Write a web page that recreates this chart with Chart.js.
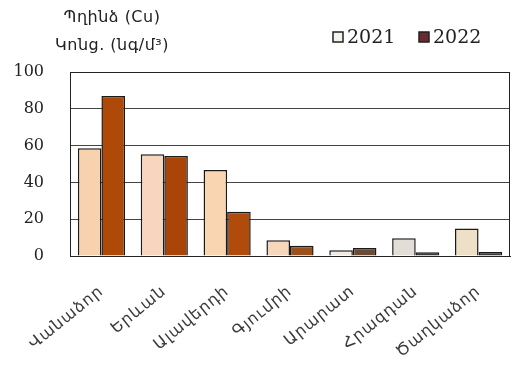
<!DOCTYPE html>
<html>
<head>
<meta charset="utf-8">
<script src="https://cdn.jsdelivr.net/npm/chart.js@4/dist/chart.umd.min.js"></script>
<style>
  html, body { margin: 0; padding: 0; background: #fff; }
  #wrap { width: 511px; height: 376px; position: relative; }
</style>
</head>
<body>
<div id="wrap"><canvas id="c" width="511" height="376"></canvas></div>
<script>
// Copper (Cu) concentration by city, ng/m³
const cities = ['Վանաձոր', 'Երևան', 'Ալավերդի', 'Գյումրի', 'Արարատ', 'Հրազդան', 'Ծաղկաձոր'];
const values2021 = [58.5, 55.3, 46.7, 8.5, 3.1, 9.6, 15.0];
const values2022 = [87.0, 54.3, 24.0, 5.6, 4.3, 2.0, 2.2];
const yTicks = [0, 20, 40, 60, 80, 100];
const titleLines = ['Պղինձ (Cu)', 'Կոնց. (նգ/մ³)'];
const seriesNames = ['2021', '2022'];

const fill2021 = ['#f8d2ae', '#f7d6bd', '#f9d6b1', '#f5d7bc', '#f1ebe4', '#e3ddd7', '#eee0c6'];
const fill2022 = ['#ae4908', '#a94508', '#b04b0c', '#9c511c', '#6b4b33', '#3b3936', '#3b3936'];
const legendFill = ['#f4f1ee', '#6a2a2e'];

const serif = '"DejaVu Serif", "Liberation Serif", serif';
const armenian = '"DejaVu Sans", "Noto Sans", sans-serif';

const decorations = {
  id: 'decorations',
  beforeDraw(chart) {
    // slightly wider letter spacing for the rotated city names
    const sx = chart.scales.x;
    if (!sx._spaced) {
      const orig = sx.drawLabels;
      sx.drawLabels = function (area) {
        const c = this.ctx;
        const prev = c.letterSpacing;
        c.letterSpacing = '1px';
        orig.call(this, area);
        c.letterSpacing = prev;
      };
      sx._spaced = true;
    }
  },
  afterDatasetsDraw(chart) {
    // box round the plot area
    const { ctx, chartArea: a } = chart;
    ctx.save();
    ctx.strokeStyle = '#222';
    ctx.lineWidth = 1;
    ctx.strokeRect(Math.round(a.left) + 0.5, Math.round(a.top) + 0.5,
                   Math.round(a.right - a.left) - 1, Math.round(a.bottom - a.top));
    ctx.restore();
  },
  afterDraw(chart) {
    const { ctx } = chart;
    ctx.save();
    // two-line heading, top left
    ctx.fillStyle = '#222';
    ctx.font = '16px ' + armenian;
    ctx.letterSpacing = '0.5px';
    ctx.textAlign = 'center';
    ctx.textBaseline = 'middle';
    ctx.fillText(titleLines[0], 112, 18);
    ctx.fillText(titleLines[1], 112, 46);
    ctx.letterSpacing = '0px';
    // legend, top right
    const items = [{ x: 333 }, { x: 419 }];
    ctx.font = '19px ' + serif;
    ctx.textAlign = 'left';
    items.forEach((it, i) => {
      ctx.fillStyle = legendFill[i];
      ctx.fillRect(it.x, 32, 10, 10);
      ctx.strokeStyle = '#222';
      ctx.lineWidth = 1.5;
      ctx.strokeRect(it.x, 32, 10, 10);
      ctx.fillStyle = '#222';
      ctx.fillText(seriesNames[i], it.x + 14, 38);
    });
    ctx.restore();
  }
};

new Chart(document.getElementById('c'), {
  type: 'bar',
  data: {
    labels: cities,
    datasets: [
      { label: seriesNames[0], data: values2021, backgroundColor: fill2021, borderColor: '#1a1a1a', borderWidth: 1.5 },
      { label: seriesNames[1], data: values2022, backgroundColor: fill2022, borderColor: '#1a1a1a', borderWidth: 1.5 }
    ]
  },
  options: {
    responsive: false,
    animation: false,
    devicePixelRatio: 1,
    layout: { padding: { top: 72, right: 1, left: 0, bottom: 0 } },
    datasets: { bar: { categoryPercentage: 0.75, barPercentage: 1.0 } },
    plugins: {
      legend: { display: false },
      tooltip: { enabled: false }
    },
    scales: {
      x: {
        grid: { display: false },
        border: { display: true, color: '#222', width: 1 },
        afterFit(axis) { axis.height = 120; },
        ticks: {
          font: { family: armenian, size: 16 },
          color: '#3a3a3a',
          minRotation: 39,
          maxRotation: 39,
          padding: 18,
          autoSkip: false
        }
      },
      y: {
        min: 0,
        max: 100,
        afterBuildTicks(axis) { axis.ticks = yTicks.map(v => ({ value: v })); },
        afterFit(axis) { axis.width = 70; },
        grid: { color: '#444', lineWidth: 1, drawTicks: false },
        border: { display: true, color: '#222', width: 1 },
        ticks: {
          font: { family: serif, size: 16 },
          color: '#222',
          padding: 26
        }
      }
    }
  },
  plugins: [decorations]
});
</script>
</body>
</html>
